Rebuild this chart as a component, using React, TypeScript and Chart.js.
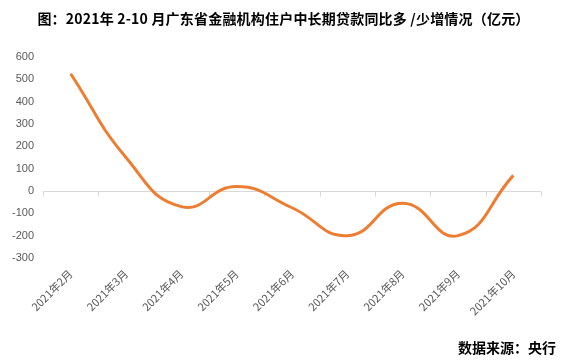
import React, { useEffect, useRef } from "react";
import { Chart, registerables } from "chart.js";

Chart.register(...registerables);

const categories = [
  "2021年2月", "2021年3月", "2021年4月", "2021年5月", "2021年6月",
  "2021年7月", "2021年8月", "2021年9月", "2021年10月",
];
const values = [525, 150, -70, 20, -75, -200, -55, -200, 70];
const yTicks = { min: -300, max: 600, step: 100 };
const titleText = "图：2021年 2-10 月广东省金融机构住户中长期贷款同比多 /少增情况（亿元）";
const sourceText = "数据来源：央行";

const zeroLinePlugin = {
  id: "zeroLine",
  beforeDatasetsDraw(chart: any) {
    const { ctx, scales } = chart;
    const x = scales.x;
    const y = scales.y;
    const y0 = Math.round(y.getPixelForValue(0)) + 0.5;
    ctx.save();
    ctx.strokeStyle = "#D9D9D9";
    ctx.lineWidth = 1;
    ctx.beginPath();
    ctx.moveTo(chart.chartArea.left, y0);
    ctx.lineTo(chart.chartArea.right, y0);
    const n = categories.length;
    const step = (chart.chartArea.right - chart.chartArea.left) / n;
    for (let i = 0; i <= n; i++) {
      const px = Math.round(x.getPixelForValue(0) - step / 2 + i * step) + 0.5;
      ctx.moveTo(px, y0);
      ctx.lineTo(px, y0 + 5);
    }
    ctx.stroke();
    ctx.restore();
  },
};

export default function App() {
  const ref = useRef<HTMLCanvasElement>(null);
  useEffect(() => {
    if (!ref.current) return;
    const chart = new Chart(ref.current, {
      type: "line",
      data: {
        labels: categories,
        datasets: [
          {
            data: values,
            borderColor: "#ED7D31",
            borderWidth: 3,
            pointRadius: 0,
            tension: 0.48,
            fill: false,
          },
        ],
      },
      options: {
        animation: false,
        responsive: false,
        maintainAspectRatio: false,
        layout: { padding: { left: 0, right: 26, top: 57, bottom: 0 } },
        plugins: { legend: { display: false }, tooltip: { enabled: false } },
        scales: {
          x: {
            offset: true,
            grid: { display: false, drawTicks: false },
            border: { display: false },
            ticks: {
              color: "#595959",
              font: { family: "'Noto Sans CJK SC', 'DejaVu Sans', sans-serif", size: 11 },
              maxRotation: 45,
              minRotation: 45,
              padding: 9,
              autoSkip: false,
            },
            afterFit(scale: any) {
              scale.height = 103;
            },
          },
          y: {
            min: yTicks.min,
            max: yTicks.max,
            grid: { display: false, drawTicks: false },
            border: { display: false },
            ticks: {
              stepSize: yTicks.step,
              color: "#595959",
              font: { family: "'Liberation Sans', Arial, sans-serif", size: 11 },
              padding: 9,
            },
            afterFit(scale: any) {
              scale.width = 43;
            },
          },
        },
      },
      plugins: [zeroLinePlugin],
    });
    return () => chart.destroy();
  }, []);

  return (
    <div style={{ position: "fixed", left: 0, top: 0, width: 567, height: 361, background: "#fff" }}>
      <canvas ref={ref} width={567} height={361} style={{ position: "absolute", left: 0, top: 0 }} />
      <div
        style={{
          position: "absolute",
          left: 0,
          width: 567,
          top: 8,
          textAlign: "center",
          fontFamily: "'Noto Sans CJK SC', sans-serif",
          fontWeight: 700,
          fontSize: 14,
          letterSpacing: "0.2px",
          lineHeight: "20px",
          color: "#000",
          whiteSpace: "nowrap",
        }}
      >
        {titleText}
      </div>
      <div
        style={{
          position: "absolute",
          right: 11,
          top: 337,
          fontFamily: "'Noto Sans CJK SC', sans-serif",
          fontWeight: 700,
          fontSize: 14,
          lineHeight: "20px",
          color: "#000",
          whiteSpace: "nowrap",
        }}
      >
        {sourceText}
      </div>
    </div>
  );
}
